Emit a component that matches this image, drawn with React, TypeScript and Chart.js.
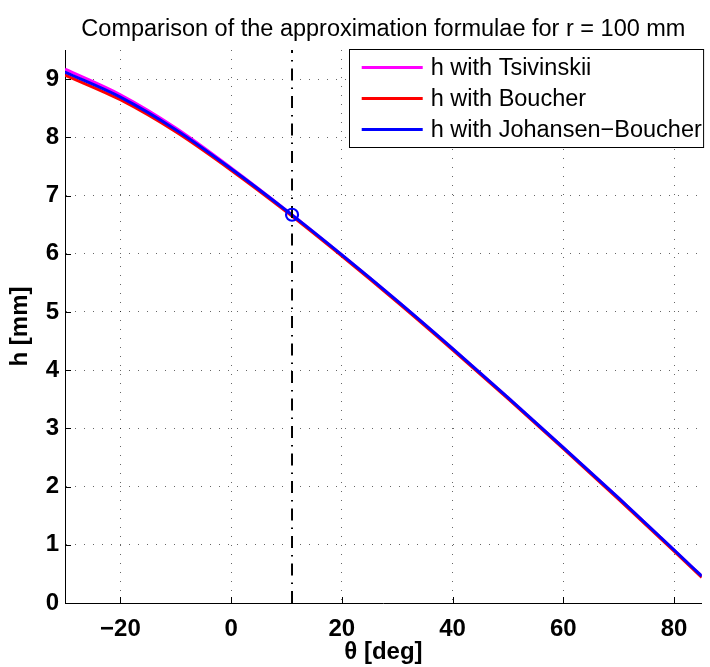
import React, { useEffect, useRef } from 'react';
import { Chart, registerables } from 'chart.js';

Chart.register(...registerables);

// ---------- data ----------
const thetaDeg = [-30, -20, -10, 0, 10, 20, 30, 40, 50, 60, 70, 80, 85];
const hTsivinskii = [9.17, 8.73, 8.16, 7.475, 6.745, 5.98, 5.19, 4.37, 3.53, 2.67, 1.8, 0.91, 0.46];
const hBoucher = [9.07, 8.645, 8.095, 7.435, 6.72, 5.96, 5.17, 4.35, 3.51, 2.65, 1.78, 0.89, 0.44];
const hJohansenBoucher = [9.12, 8.69, 8.13, 7.46, 6.74, 5.98, 5.19, 4.37, 3.53, 2.67, 1.8, 0.91, 0.46];

const seriesLabels = ['h with Tsivinskii', 'h with Boucher', 'h with Johansen\u2212Boucher'];
const seriesColors = ['#ff00ff', '#ff0000', '#0000ff'];

const markerTheta = 11;
const markerH = 6.67;

const xTicks = [-20, 0, 20, 40, 60, 80];
const yTicks = [0, 1, 2, 3, 4, 5, 6, 7, 8, 9];
const xMin = -30;
const xMax = 85;
const yMin = 0;
const yMax = 9.5;

const titleText = 'Comparison of the approximation formulae for r = 100 mm';
const xLabel = '\u03b8 [deg]';
const yLabel = 'h [mm]';

const FONT = '"Liberation Sans", Arial, Helvetica, sans-serif';

const fmtTick = (v: number) => (v < 0 ? '\u2212' + Math.abs(v) : String(v));

const inwardTicks = {
  id: 'inwardTicks',
  afterDatasetsDraw(chart: any) {
    const { ctx, chartArea, scales } = chart;
    const xs = scales.x;
    const ys = scales.y;
    ctx.save();
    ctx.strokeStyle = '#000';
    ctx.lineWidth = 1;
    ctx.beginPath();
    xs.ticks.forEach((t: any) => {
      const px = Math.round(xs.getPixelForValue(t.value)) + 0.5;
      ctx.moveTo(px, chartArea.bottom);
      ctx.lineTo(px, chartArea.bottom - 6);
    });
    ys.ticks.forEach((t: any) => {
      const py = Math.round(ys.getPixelForValue(t.value)) + 0.5;
      ctx.moveTo(chartArea.left, py);
      ctx.lineTo(chartArea.left + 6, py);
    });
    ctx.stroke();
    ctx.restore();
  },
};

const boxedLegend = {
  id: 'boxedLegend',
  afterDraw(chart: any) {
    const { ctx, chartArea } = chart;
    const items = chart.data.datasets.filter((d: any) => d.inLegend);
    ctx.save();
    ctx.font = `23.5px ${FONT}`;
    const maxW = Math.max(...items.map((d: any) => ctx.measureText(d.label).width));
    const right = chartArea.right + 2;
    const top = chartArea.top - 1;
    const width = 82 + maxW + 2;
    const left = right - width;
    const rowH = 31;
    const firstRow = 18.5;
    const height = firstRow * 2 + rowH * (items.length - 1);
    ctx.fillStyle = '#fff';
    ctx.fillRect(left, top, width, height);
    ctx.strokeStyle = '#000';
    ctx.lineWidth = 1;
    ctx.strokeRect(Math.round(left) + 0.5, top + 0.5, width - 1, height - 1);
    items.forEach((d: any, i: number) => {
      const y = top + firstRow + i * rowH;
      ctx.strokeStyle = d.borderColor;
      ctx.lineWidth = 3;
      ctx.beginPath();
      ctx.moveTo(left + 13, y);
      ctx.lineTo(left + 74, y);
      ctx.stroke();
      ctx.fillStyle = '#000';
      ctx.textBaseline = 'middle';
      ctx.textAlign = 'left';
      ctx.fillText(d.label, left + 82, y + 1);
    });
    ctx.restore();
  },
};

export default function App() {
  const canvasRef = useRef<HTMLCanvasElement | null>(null);

  useEffect(() => {
    if (!canvasRef.current) return;
    const allSeries = [hTsivinskii, hBoucher, hJohansenBoucher];
    const curveSets = allSeries.map((vals, k) => ({
      label: seriesLabels[k],
      data: thetaDeg.map((t, i) => ({ x: t, y: vals[i] })),
      borderColor: seriesColors[k],
      backgroundColor: seriesColors[k],
      borderWidth: 3,
      pointRadius: 0,
      showLine: true,
      cubicInterpolationMode: 'monotone',
      order: 5 - k,
      inLegend: true,
    }));

    const chart = new Chart(canvasRef.current, {
      type: 'scatter',
      data: {
        datasets: [
          ...curveSets,
          {
            label: 'theta0',
            data: [
              { x: markerTheta, y: yMin },
              { x: markerTheta, y: yMax },
            ],
            borderColor: '#000',
            backgroundColor: '#000',
            borderWidth: 2,
            borderDash: [12, 7, 1.5, 7],
            pointRadius: 0,
            showLine: true,
            order: 2,
          },
          {
            label: 'marker',
            data: [{ x: markerTheta, y: markerH }],
            showLine: false,
            pointRadius: 6,
            pointBorderWidth: 2.2,
            pointBorderColor: '#0000ff',
            pointBackgroundColor: 'rgba(0,0,0,0)',
            order: 1,
          },
        ] as any,
      },
      options: {
        responsive: false,
        animation: false,
        devicePixelRatio: 1,
        events: [],
        layout: { padding: { left: 0, right: 3, top: 0, bottom: 0 } },
        plugins: {
          legend: { display: false },
          tooltip: { enabled: false },
          title: {
            display: true,
            text: titleText,
            fullSize: false,
            color: '#000',
            font: { family: FONT, size: 23.5, weight: 'normal' },
            padding: { top: 15.9, bottom: 5.9 },
          },
        },
        scales: {
          x: {
            type: 'linear',
            min: xMin,
            max: xMax,
            afterBuildTicks: (s: any) => {
              s.ticks = xTicks.map((v) => ({ value: v }));
            },
            afterFit: (s: any) => {
              s.height = 64;
            },
            ticks: {
              color: '#000',
              font: { family: FONT, size: 24, weight: 'bold' },
              padding: 12,
              maxRotation: 0,
              autoSkip: false,
              callback: (v: any) => fmtTick(Number(v)),
            },
            grid: { color: 'rgba(0,0,0,0.6)', lineWidth: 1, drawTicks: false },
            border: { display: true, color: '#000', width: 1, dash: [1, 8] },
            title: {
              display: true,
              text: xLabel,
              color: '#000',
              font: { family: FONT, size: 24, weight: 'bold' },
              padding: { top: 0, bottom: 0 },
            },
          },
          y: {
            type: 'linear',
            min: yMin,
            max: yMax,
            afterBuildTicks: (s: any) => {
              s.ticks = yTicks.map((v) => ({ value: v }));
            },
            afterFit: (s: any) => {
              s.width = 65;
            },
            ticks: {
              color: '#000',
              font: { family: FONT, size: 24, weight: 'bold' },
              padding: 6,
              autoSkip: false,
              callback: (v: any) => fmtTick(Number(v)),
            },
            grid: { color: 'rgba(0,0,0,0.6)', lineWidth: 1, drawTicks: false },
            border: { display: true, color: '#000', width: 1, dash: [1, 8] },
            title: {
              display: true,
              text: yLabel,
              color: '#000',
              font: { family: FONT, size: 24, weight: 'bold' },
              padding: { top: 6, bottom: 0 },
            },
          },
        },
      } as any,
      plugins: [inwardTicks, boxedLegend],
    });

    return () => {
      chart.destroy();
    };
  }, []);

  return (
    <div style={{ position: 'fixed', left: 0, top: 0, width: 710, height: 667, background: '#fff' }}>
      <canvas ref={canvasRef} width={710} height={667} style={{ display: 'block' }} />
    </div>
  );
}
